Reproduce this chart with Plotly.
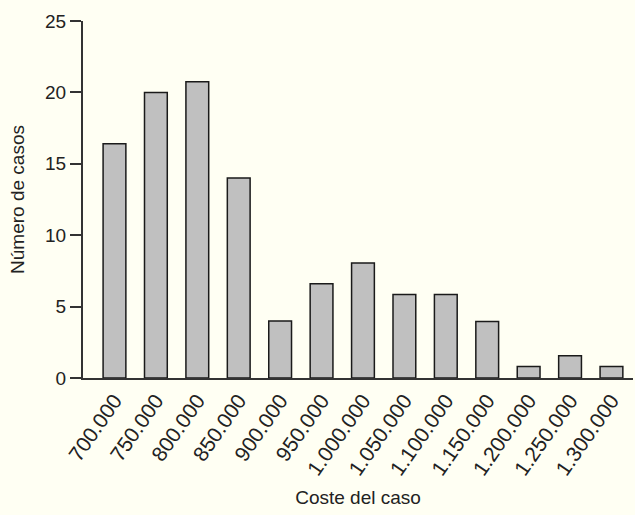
import plotly.graph_objects as go

categories = ["700.000", "750.000", "800.000", "850.000", "900.000", "950.000",
              "1.000.000", "1.050.000", "1.100.000", "1.150.000", "1.200.000",
              "1.250.000", "1.300.000"]
casos = [16.4, 20.0, 20.75, 14.0, 4.0, 6.6, 8.05, 5.85, 5.85, 3.95, 0.8, 1.55, 0.8]
y_ticks = [0, 5, 10, 15, 20, 25]

FONT = "Liberation Sans"
BG = "#FFFFF3"

fig = go.Figure(go.Bar(
    x=categories, y=casos,
    marker=dict(color="#C0C0C0", line=dict(color="#1a1a1a", width=1.5)),
    width=0.55,
))

fig.update_layout(
    width=635, height=515,
    paper_bgcolor=BG, plot_bgcolor=BG,
    margin=dict(l=83, r=2, t=21, b=137),
    showlegend=False,
    font=dict(family=FONT, color="#222", size=19),
    xaxis=dict(
        type="category", range=[-0.76, 12.52],
        tickangle=-55, tickfont=dict(size=21, family=FONT),
        showline=True, linecolor="#333", linewidth=2,
        ticks="", showgrid=False, zeroline=False,
        title=dict(text="Coste del caso", font=dict(size=19, family=FONT), standoff=12),
    ),
    yaxis=dict(
        range=[0, 25], tickvals=y_ticks,
        tickfont=dict(size=19, family=FONT),
        showline=True, linecolor="#333", linewidth=2,
        ticks="outside", ticklen=11, tickcolor="#333", tickwidth=1.5,
        showgrid=False, zeroline=False,
        title=dict(text="Número de casos", font=dict(size=19, family=FONT), standoff=15),
    ),
)

fig.write_html("out.html", config={"displayModeBar": False},
               post_script="document.body.style.margin='0';document.body.style.overflow='hidden';")
